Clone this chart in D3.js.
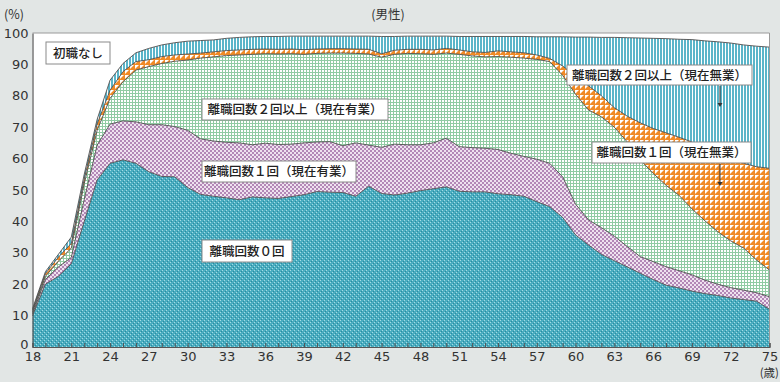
<!DOCTYPE html>
<html><head><meta charset="utf-8">
<script src="https://cdn.jsdelivr.net/npm/d3@7"></script>
<style>
html,body{margin:0;padding:0;background:#e2e6e5;}
svg{display:block;}
</style></head><body>
<svg id="chart" width="780" height="382"></svg>
<script>
// ---- data (percent of men, by age) ----
const ages = [18,19,20,21,22,23,24,25,26,27,28,29,30,31,32,33,34,35,36,37,38,39,40,41,42,43,44,45,46,47,48,49,50,51,52,53,54,55,56,57,58,59,60,61,62,63,64,65,66,67,68,69,70,71,72,73,74,75];
const xTickLabels = [18,21,24,27,30,33,36,39,42,45,48,51,54,57,60,63,66,69,72,75];
const yTickLabels = [0,10,20,30,40,50,60,70,80,90,100];

const zeroChanges =        [10.0,20.0,22.5,26.5,40.0,53.2,58.5,59.6,58.5,55.8,54.3,54.2,50.8,48.6,48.0,47.5,46.9,47.8,47.5,47.3,47.9,48.5,49.5,49.3,49.2,48.0,51.2,48.9,48.4,49.0,49.8,50.4,51.0,49.6,49.4,49.4,48.8,48.5,48.0,46.3,44.7,41.3,35.7,32.5,29.5,27.5,25.5,23.5,21.5,19.7,18.8,17.8,17.0,16.4,15.6,15.1,14.6,12.0];
const onceEmployed =       [0.6,1.5,3.0,2.0,7.0,11.1,12.5,12.4,13.2,15.0,16.5,16.0,18.2,17.7,17.6,17.7,18.1,16.6,17.4,17.2,16.7,16.5,15.8,16.1,14.9,17.0,13.1,14.7,16.2,15.4,14.6,14.6,15.5,14.2,14.1,13.9,14.1,13.2,12.7,13.5,13.8,12.9,9.8,8.0,8.5,7.8,6.5,5.3,5.7,5.9,5.5,5.2,4.3,3.6,3.3,3.0,2.7,4.0];
const twicePlusEmployed =  [0.6,1.0,1.8,3.0,5.0,4.7,8.2,12.5,16.5,18.5,19.5,20.8,22.4,25.7,26.8,27.6,28.0,28.8,28.5,28.8,28.8,28.2,28.2,28.2,29.5,28.5,29.0,28.7,28.6,29.1,29.0,28.2,27.1,29.4,29.2,29.1,29.6,30.6,31.3,31.8,32.4,32.3,35.0,35.0,35.3,34.7,33.3,30.8,28.1,25.9,24.0,21.0,18.9,16.7,14.9,13.4,10.4,8.5];
const onceNotEmployed =    [0.5,0.9,1.3,1.5,1.5,2.0,2.6,3.2,2.7,2.2,2.2,2.0,1.9,1.6,1.6,1.6,1.6,1.6,1.5,1.5,1.5,1.5,1.4,1.4,1.4,1.4,1.5,1.1,1.3,1.3,1.4,1.4,1.5,1.4,1.3,1.4,1.8,1.7,1.7,1.4,1.0,3.0,5.8,7.7,6.7,6.2,8.2,11.8,14.3,16.7,18.5,21.3,22.8,24.8,26.2,27.0,29.7,32.4];
const twicePlusNotEmployed=[0.5,0.6,0.9,2.0,1.5,1.5,3.2,2.6,2.8,3.6,3.7,3.9,4.1,4.0,3.8,3.9,4.0,4.0,4.0,4.1,4.1,4.3,4.1,4.0,4.0,4.1,4.2,5.5,4.4,4.2,4.2,4.4,3.9,4.3,4.9,5.1,4.6,4.9,5.2,5.8,6.9,9.3,12.4,15.5,18.6,22.4,25.0,27.0,28.7,30.0,31.2,32.6,34.5,35.7,36.8,37.7,38.4,38.6];
const noFirstJob =         [87.8,76.0,70.5,65.0,45.0,27.5,15.0,9.7,6.3,4.9,3.8,3.1,2.6,2.4,2.2,1.7,1.4,1.2,1.1,1.1,1.0,1.0,1.0,1.0,1.0,1.0,1.0,1.1,1.1,1.0,1.0,1.0,1.0,1.1,1.1,1.1,1.1,1.1,1.1,1.2,1.2,1.2,1.3,1.3,1.4,1.4,1.5,1.6,1.7,1.8,2.0,2.1,2.5,2.8,3.2,3.8,4.2,4.5];

const seriesKeys = ["zero","onceEmp","twiceEmp","onceNot","twiceNot","none"];
const seriesArrays = [zeroChanges, onceEmployed, twicePlusEmployed, onceNotEmployed, twicePlusNotEmployed, noFirstJob];
const table = ages.map((a,i)=>{const r={age:a}; seriesKeys.forEach((k,j)=>r[k]=seriesArrays[j][i]); return r;});

// ---- layout ----
const svg = d3.select("#chart");
const pL = 32.5, pR = 769.5, pT = 33, pB = 347;
const x = d3.scaleLinear().domain([18,75]).range([pL,pR]);
const y = d3.scaleLinear().domain([0,100]).range([pB,pT]);

// patterns
const defs = svg.append("defs");
function pat(id,w,h){return defs.append("pattern").attr("id",id).attr("patternUnits","userSpaceOnUse").attr("width",w).attr("height",h);}
let p = pat("pTeal",4,4);
p.append("rect").attr("width",4).attr("height",4).attr("fill","#4aadc0");
p.append("rect").attr("x",0).attr("y",0).attr("width",1).attr("height",1).attr("fill","#a3dbe4");
p.append("rect").attr("x",2).attr("y",2).attr("width",1).attr("height",1).attr("fill","#a3dbe4");
p.append("rect").attr("x",1).attr("y",3).attr("width",1).attr("height",1).attr("fill","#2b8aa0");
p.append("rect").attr("x",3).attr("y",1).attr("width",1).attr("height",1).attr("fill","#2b8aa0");
p = pat("pPink",4,4);
p.append("rect").attr("width",4).attr("height",4).attr("fill","#efe2ef");
p.append("rect").attr("x",0).attr("y",0).attr("width",2).attr("height",2).attr("fill","#b388b7");
p.append("rect").attr("x",2).attr("y",2).attr("width",2).attr("height",2).attr("fill","#b388b7");
p = pat("pGreen",3,3);
p.append("rect").attr("width",3).attr("height",3).attr("fill","#ffffff");
p.append("rect").attr("width",3).attr("height",1).attr("fill","#90cba3");
p.append("rect").attr("width",1).attr("height",3).attr("fill","#90cba3");
p = pat("pOrange",5,5);
p.append("rect").attr("width",5).attr("height",5).attr("fill","#f08a26");
p.append("polygon").attr("points","0,0 4,0 0,4").attr("fill","#ffffff");
p = pat("pBlue",3,3);
p.append("rect").attr("width",3).attr("height",3).attr("fill","#ffffff");
p.append("rect").attr("width",2).attr("height",3).attr("fill","#5ab5c9");

const fills = ["url(#pTeal)","url(#pPink)","url(#pGreen)","url(#pOrange)","url(#pBlue)","#ffffff"];

// plot background
svg.append("rect").attr("x",pL).attr("y",pT).attr("width",pR-pL).attr("height",pB-pT).attr("fill","#ffffff");

const stack = d3.stack().keys(seriesKeys)(table);
const area = d3.area().x(d=>x(d.data.age)).y0(d=>y(d[0])).y1(d=>y(d[1]));
const line = d3.line().x(d=>x(d.data.age)).y(d=>y(d[1]));

svg.append("g").selectAll("path").data(stack).join("path")
  .attr("d",area).attr("fill",(d,i)=>fills[i]).attr("stroke","none");
svg.append("g").selectAll("path").data(stack.slice(0,5)).join("path")
  .attr("d",line).attr("fill","none").attr("stroke","#4d4d4d").attr("stroke-width",0.9);

// frame
svg.append("path").attr("d",`M${pL},${pT}H${pR}V${pB}`).attr("fill","none").attr("stroke","#9a9a9a").attr("stroke-width",1);

// axes
const numFont = "'DejaVu Sans', sans-serif";
const xAxis = d3.axisBottom(x).tickValues(ages).tickSize(-4).tickPadding(6)
  .tickFormat(d=> xTickLabels.includes(d) ? d : "");
const gx = svg.append("g").attr("transform",`translate(0,${pB})`).call(xAxis);
gx.select(".domain").attr("stroke","#555").attr("stroke-width",1.2);
gx.selectAll(".tick line").attr("stroke","#555");
gx.selectAll("text").attr("font-family",numFont).attr("font-size",13).attr("fill","#333").attr("dy","0.6em");

const yAxis = d3.axisLeft(y).tickValues(yTickLabels).tickSize(0).tickPadding(4);
const gy = svg.append("g").attr("transform",`translate(${pL},0)`).call(yAxis);
gy.select(".domain").attr("stroke","#555").attr("stroke-width",1.2);
gy.selectAll("text").attr("font-family",numFont).attr("font-size",13).attr("fill","#333");
gy.selectAll(".tick").filter(d=>d===0).select("text").attr("dy","0.1em");

// texts
const jp = "'Noto Sans CJK JP', sans-serif";
svg.append("text").attr("x",388).attr("y",19).attr("text-anchor","middle").attr("font-family",jp).attr("font-size",12.5).attr("fill","#333").text("(男性)");
svg.append("text").attr("x",4).attr("y",19).attr("font-family",jp).attr("font-size",12.5).attr("fill","#333").text("(%)");
svg.append("text").attr("x",779).attr("y",377).attr("text-anchor","end").attr("font-family",jp).attr("font-size",11.5).attr("fill","#333").text("(歳)");

const labels = [
  {t:"初職なし", x:46, y:42, w:64, h:22},
  {t:"離職回数２回以上（現在有業）", x:202, y:99, w:186, h:21},
  {t:"離職回数１回（現在有業）", x:202, y:161, w:154, h:21},
  {t:"離職回数０回", x:202, y:240, w:90, h:22},
  {t:"離職回数２回以上（現在無業）", x:567, y:65, w:185, h:20},
  {t:"離職回数１回（現在無業）", x:592, y:142, w:159, h:21}
];
const lg = svg.append("g");
labels.forEach(l=>{
  lg.append("rect").attr("x",l.x).attr("y",l.y).attr("width",l.w).attr("height",l.h)
    .attr("fill","#ffffff").attr("stroke","#8a8a8a").attr("stroke-width",1);
  lg.append("text").attr("x",l.x+l.w/2).attr("y",l.y+l.h/2).attr("dy","0.36em")
    .attr("text-anchor","middle").attr("font-family",jp).attr("font-size",12.5).attr("font-weight",500).attr("fill","#222").text(l.t);
});
// arrows
[[720,86,104],[720,164,183]].forEach(a=>{
  lg.append("line").attr("x1",a[0]).attr("x2",a[0]).attr("y1",a[1]).attr("y2",a[2]).attr("stroke","#333").attr("stroke-width",1);
  lg.append("path").attr("d",`M${a[0]-2.5},${a[2]-1}L${a[0]+2.5},${a[2]-1}L${a[0]},${a[2]+3}Z`).attr("fill","#333");
});
</script>
</body></html>
